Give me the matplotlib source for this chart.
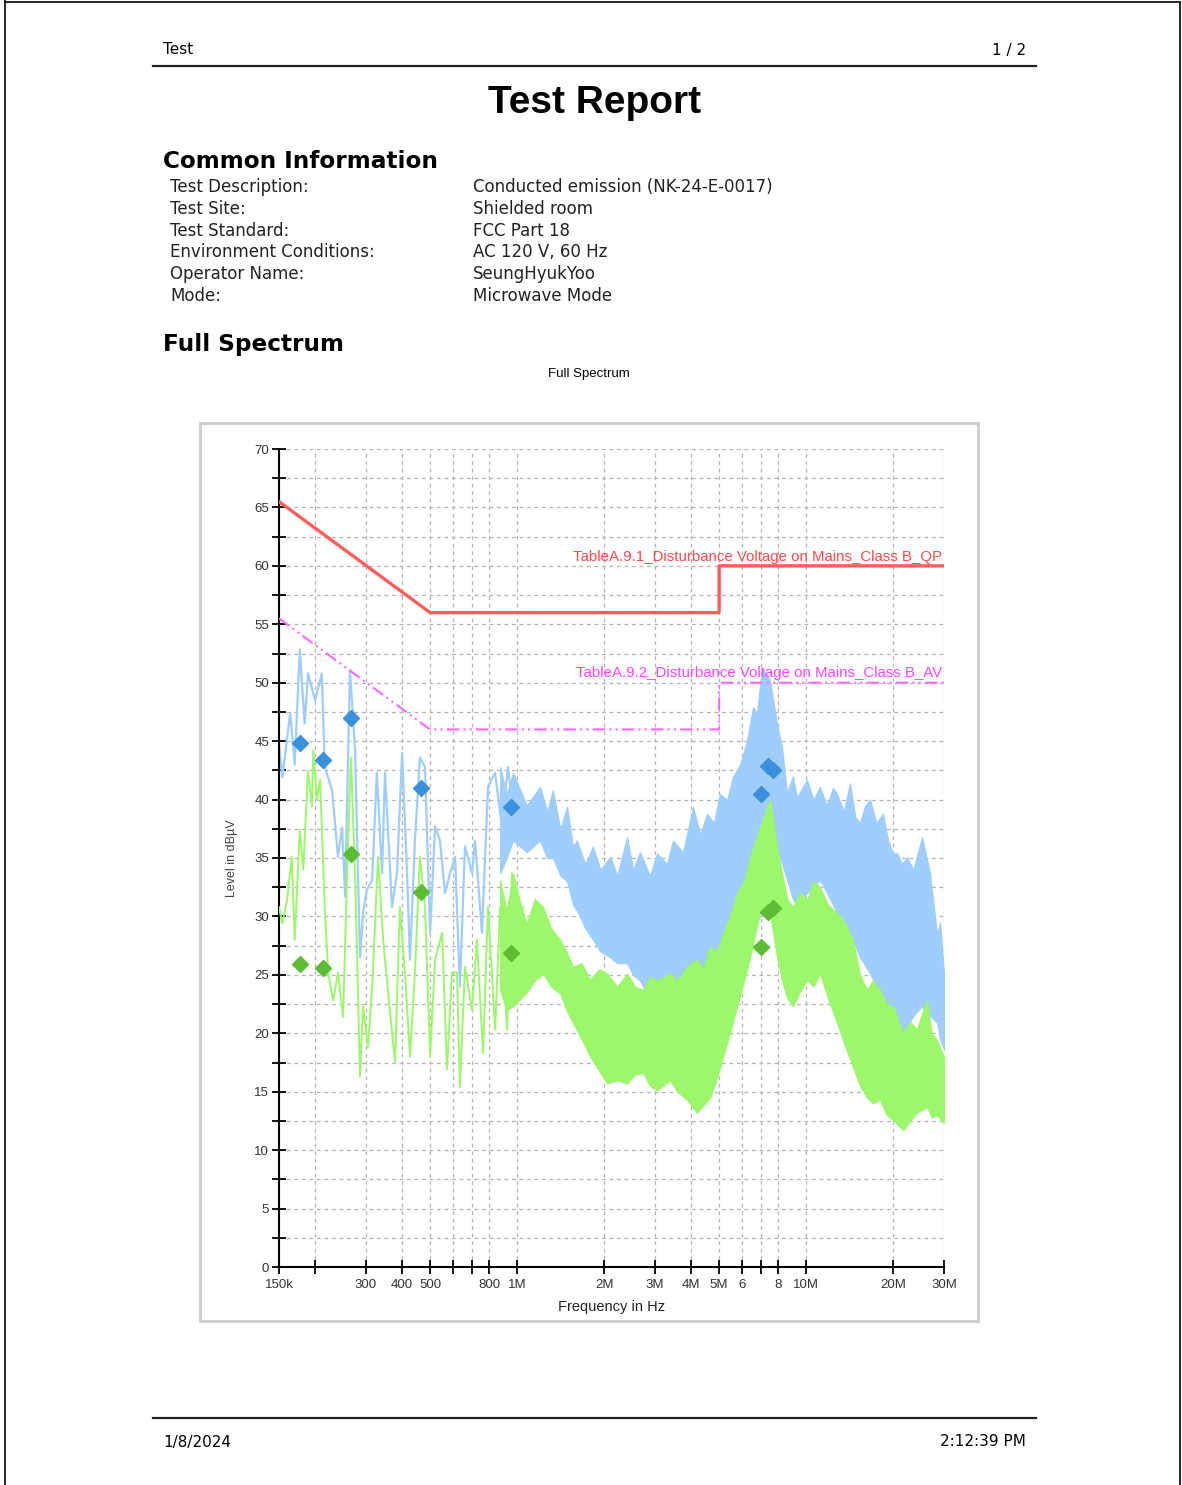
import matplotlib
matplotlib.use("Agg")
import matplotlib.pyplot as plt
from matplotlib.lines import Line2D
from matplotlib.patches import Rectangle
from matplotlib.ticker import FixedLocator, MultipleLocator

W, H = 1182, 1485

# limits (frequency in MHz, level in dBuV)
qp_limit_freq = [0.15, 0.5, 5.0, 5.0, 30.0]
qp_limit_level = [65.5, 56.0, 56.0, 60.0, 60.0]
av_limit_freq = [0.15, 0.5, 5.0, 5.0, 30.0]
av_limit_level = [55.5, 46.0, 46.0, 50.0, 50.0]

# low frequency part of the peak (blue) and average (green) scans
pk_low_freq = [0.150, 0.154, 0.164, 0.170, 0.177, 0.184, 0.189, 0.200, 0.211, 0.216,
               0.229, 0.240, 0.248, 0.254, 0.264, 0.275, 0.286, 0.293, 0.302, 0.315,
               0.327, 0.341, 0.349, 0.369, 0.384, 0.400, 0.416, 0.426, 0.443, 0.461,
               0.480, 0.500, 0.520, 0.541, 0.563, 0.586, 0.610, 0.634, 0.660, 0.698,
               0.715, 0.756, 0.793, 0.839, 0.887, 0.930, 0.984, 1.040]
pk_low_level = [44.8, 41.9, 47.4, 43.0, 52.8, 46.5, 50.8, 48.5, 50.8, 42.8,
                40.8, 35.1, 37.6, 31.7, 51.1, 44.2, 26.5, 30.3, 32.3, 33.1,
                42.3, 33.7, 42.3, 30.8, 33.7, 44.0, 33.7, 26.3, 36.5, 43.6,
                42.8, 28.6, 37.7, 36.5, 32.0, 33.7, 35.1, 24.0, 36.0, 33.7,
                36.5, 28.6, 41.1, 42.3, 37.6, 42.8, 37.6, 40.0]

av_low_freq = [0.150, 0.154, 0.160, 0.166, 0.170, 0.177, 0.182, 0.189, 0.195, 0.197,
               0.203, 0.208, 0.216, 0.222, 0.231, 0.240, 0.250, 0.258, 0.266, 0.275,
               0.286, 0.293, 0.305, 0.317, 0.330, 0.344, 0.358, 0.378, 0.393, 0.409,
               0.426, 0.443, 0.461, 0.480, 0.500, 0.520, 0.550, 0.572, 0.595, 0.619,
               0.634, 0.660, 0.698, 0.726, 0.762, 0.793, 0.839, 0.873, 0.923, 0.960,
               1.007, 1.048]
av_low_level = [30.8, 29.4, 31.4, 35.1, 28.0, 37.4, 34.0, 42.5, 39.4, 44.2,
                40.0, 41.7, 30.8, 25.1, 22.8, 25.2, 21.4, 33.7, 43.6, 33.7,
                16.3, 22.3, 18.8, 25.2, 35.1, 28.0, 23.4, 17.5, 30.8, 25.2,
                18.0, 25.2, 35.1, 30.8, 18.0, 26.3, 28.6, 16.9, 25.2, 25.2,
                15.4, 25.7, 22.0, 28.0, 18.3, 30.8, 20.3, 30.8, 20.3, 33.7,
                28.0, 30.8]

# dense part: min / max envelope of the scans
pk_band_freq = [0.873, 0.92, 0.968, 1.08, 1.20, 1.27, 1.33, 1.41, 1.49, 1.56,
                1.61, 1.72, 1.83, 1.94, 2.10, 2.22, 2.40, 2.52, 2.66, 2.88,
                3.05, 3.30, 3.46, 3.75, 4.06, 4.30, 4.54, 4.80, 5.03, 5.33,
                5.59, 5.91, 6.25, 6.55, 6.76, 7.04, 7.50, 7.93, 8.25, 8.59,
                9.00, 9.30, 10.07, 10.6, 11.17, 11.8, 12.39, 12.79, 13.5, 14.19,
                14.8, 15.36, 16.0, 16.64, 17.5, 18.45, 19.2, 20.0, 20.63, 21.5,
                22.34, 23.5, 25.18, 26.84, 28.38, 29.07, 30.0]
pk_band_hi = [42.8, 40.5, 42.3, 39.5, 41.1, 39.0, 40.8, 37.5, 39.4, 36.0,
              36.5, 34.5, 36.0, 34.0, 35.1, 33.5, 36.8, 34.0, 35.5, 33.5,
              35.4, 34.5, 36.5, 35.5, 39.4, 37.0, 38.8, 38.0, 40.5, 40.0,
              42.0, 43.0, 45.1, 47.9, 47.4, 51.3, 50.2, 46.5, 44.5, 40.6,
              42.0, 40.2, 41.7, 40.0, 41.1, 39.5, 41.0, 40.5, 39.0, 41.4,
              38.5, 38.0, 39.5, 40.0, 38.0, 38.8, 36.5, 35.4, 35.4, 34.5,
              35.1, 34.0, 36.8, 33.7, 28.5, 29.5, 25.1]
pk_band_lo = [33.7, 35.0, 36.5, 35.5, 36.5, 35.0, 35.0, 33.5, 33.0, 31.0,
              30.5, 29.0, 28.0, 27.0, 26.5, 26.0, 26.0, 25.0, 24.5, 23.0,
              22.5, 23.0, 23.2, 22.0, 21.4, 22.5, 23.7, 25.5, 28.0, 29.0,
              30.3, 32.0, 33.7, 35.0, 36.0, 38.0, 39.4, 36.0, 34.5, 33.1,
              31.5, 30.8, 32.0, 32.5, 33.1, 32.0, 31.0, 30.3, 29.5, 28.0,
              27.5, 26.5, 25.8, 25.1, 24.0, 22.8, 21.5, 20.5, 19.4, 20.0,
              20.5, 21.5, 22.3, 21.5, 20.9, 19.5, 18.6]

av_band_freq = [0.873, 0.92, 0.968, 1.03, 1.08, 1.15, 1.23, 1.31, 1.41, 1.48,
                1.56, 1.67, 1.79, 1.92, 2.05, 2.22, 2.40, 2.56, 2.73, 2.88,
                3.05, 3.38, 3.58, 3.87, 4.19, 4.40, 4.65, 4.90, 5.16, 5.45,
                5.77, 6.10, 6.40, 6.93, 7.50, 7.93, 8.25, 8.6, 9.01, 9.5,
                10.07, 10.6, 11.17, 11.9, 12.79, 13.6, 14.53, 15.36, 16.24, 17.0,
                18.02, 19.0, 20.0, 21.65, 22.9, 24.2, 25.38, 26.2, 27.2, 28.38,
                30.0]
av_band_hi = [33.1, 30.5, 33.7, 31.0, 29.4, 31.5, 30.8, 29.0, 28.0, 27.0,
              25.7, 26.0, 24.6, 25.5, 25.1, 24.0, 25.1, 24.0, 23.7, 24.8,
              24.5, 25.1, 24.5, 25.7, 26.3, 25.5, 27.4, 27.0, 28.5, 30.0,
              32.0, 33.0, 35.1, 37.7, 40.0, 36.0, 33.7, 31.5, 30.8, 32.0,
              31.4, 33.0, 32.5, 31.0, 30.3, 29.5, 28.0, 25.0, 23.7, 24.5,
              23.7, 22.5, 22.3, 20.0, 21.0, 20.3, 22.0, 22.8, 20.0, 19.4,
              18.0]
av_band_lo = [23.7, 22.0, 22.3, 23.0, 23.5, 24.5, 25.1, 24.0, 23.4, 22.0,
              20.9, 19.5, 18.0, 16.8, 15.7, 16.0, 15.7, 16.5, 16.6, 15.5,
              15.1, 16.0, 15.0, 14.3, 13.2, 13.8, 14.5, 16.0, 18.0, 20.0,
              22.3, 24.5, 26.5, 30.3, 30.3, 26.5, 24.5, 23.0, 22.3, 23.5,
              24.6, 24.0, 25.1, 23.0, 20.9, 19.0, 17.1, 15.5, 14.5, 14.0,
              14.3, 13.0, 12.6, 11.7, 12.5, 13.2, 13.5, 13.7, 12.8, 13.0,
              12.3]

# final measurement points
qp_final_freq = [0.177, 0.213, 0.266, 0.464, 0.953, 7.00, 7.36, 7.66]
qp_final_level = [44.8, 43.4, 47.0, 41.0, 39.4, 40.5, 42.9, 42.5]
av_final_freq = [0.177, 0.213, 0.266, 0.464, 0.953, 7.00, 7.36, 7.66]
av_final_level = [25.9, 25.6, 35.3, 32.1, 26.9, 27.4, 30.4, 30.7]

xtick_vals = [0.15, 0.2, 0.3, 0.4, 0.5, 0.6, 0.7, 0.8, 1, 2, 3, 4, 5, 6, 7, 8, 10, 20, 30]
xtick_text = ['150k', '', '300', '400', '500', '', '', '800', '1M', '2M', '3M', '4M', '5M',
              '6', '', '8', '10M', '20M', '30M']

info_labels = ['Test Description:', 'Test Site:', 'Test Standard:',
               'Environment Conditions:', 'Operator Name:', 'Mode:']
info_values = ['Conducted emission (NK-24-E-0017)', 'Shielded room', 'FCC Part 18',
               'AC 120 V, 60 Hz', 'SeungHyukYoo', 'Microwave Mode']

plt.rcParams['font.family'] = ['Liberation Sans', 'DejaVu Sans']


def fx(x):
    return x / W


def fy(y):
    return 1 - y / H


fig = plt.figure(figsize=(W / 100, H / 100), dpi=100)

# page border
for xs, ys in [([5, 5], [0, H]), ([5, 1180], [2, 2]), ([1180, 1180], [2, H])]:
    fig.add_artist(Line2D([fx(v) for v in xs], [fy(v) for v in ys], color='black', lw=1.2))

# header / footer
fig.add_artist(Line2D([fx(153), fx(1036)], [fy(66), fy(66)], color='#222222', lw=1.6))
fig.text(fx(163), fy(50), 'Test', fontsize=11, family='DejaVu Sans', va='center', ha='left')
fig.text(fx(1026), fy(50), '1 / 2', fontsize=11, family='DejaVu Sans', va='center', ha='right')
fig.add_artist(Line2D([fx(153), fx(1036)], [fy(1418), fy(1418)], color='#222222', lw=1.6))
fig.text(fx(163), fy(1442), '1/8/2024', fontsize=11, family='DejaVu Sans', va='center', ha='left')
fig.text(fx(1026), fy(1442), '2:12:39 PM', fontsize=11, family='DejaVu Sans', va='center', ha='right')

fig.text(fx(595), fy(103), 'Test Report', fontsize=28, fontweight='bold', ha='center', va='center')
fig.text(fx(163), fy(161), 'Common Information', fontsize=16.7, fontweight='bold',
         family='DejaVu Sans', ha='left', va='center')
for i, (lab, val) in enumerate(zip(info_labels, info_values)):
    y = 187 + i * 21.8
    fig.text(fx(170), fy(y), lab, fontsize=12, family='DejaVu Sans', ha='left', va='center', color='#222222')
    fig.text(fx(473), fy(y), val, fontsize=12, family='DejaVu Sans', ha='left', va='center', color='#222222')
fig.text(fx(163), fy(345), 'Full Spectrum', fontsize=16.7, fontweight='bold',
         family='DejaVu Sans', ha='left', va='center')
fig.text(fx(589), fy(374), 'Full Spectrum', fontsize=9.5, ha='center', va='center')

# chart frame
fig.add_artist(Rectangle((fx(200), fy(1321)), fx(778), 898 / H, fill=False,
                         edgecolor='#cfcfcf', lw=2.2))

ax = fig.add_axes([fx(279), fy(1267), fx(665), 818 / H])
ax.set_xscale('log')

ax.fill_between(pk_band_freq, pk_band_lo, pk_band_hi, color='#9fcdfc', lw=0.8,
                edgecolor='#9fcdfc', zorder=2)
ax.plot(pk_low_freq, pk_low_level, color='#9fcdfc', lw=1.6, zorder=2)
ax.fill_between(av_band_freq, av_band_lo, av_band_hi, color='#9cf76a', lw=0.8,
                edgecolor='#9cf76a', zorder=3)
ax.plot(av_low_freq, av_low_level, color='#9cf76a', lw=1.4, zorder=3)

ax.plot(qp_limit_freq, qp_limit_level, color='#ff5c5c', lw=2.4, zorder=4)
ax.plot(av_limit_freq, av_limit_level, color='#ff66ff', lw=1.5, ls=(0, (6, 2, 1, 2, 1, 2)), zorder=4)
ax.text(29.6, 60.2, 'TableA.9.1_Disturbance Voltage on Mains_Class B_QP', color='#ff4b4b',
        fontsize=10.8, ha='right', va='bottom', zorder=5)
ax.text(29.6, 50.2, 'TableA.9.2_Disturbance Voltage on Mains_Class B_AV', color='#ff44ff',
        fontsize=10.8, ha='right', va='bottom', zorder=5)

ax.plot(qp_final_freq, qp_final_level, ls='none', marker='D', ms=8, color='#3a90dc', zorder=6)
ax.plot(av_final_freq, av_final_level, ls='none', marker='D', ms=8, color='#5cbc34', zorder=6)

ax.set_xlim(0.15, 30)
ax.set_ylim(0, 70)
ax.xaxis.set_major_locator(FixedLocator(xtick_vals))
ax.set_xticklabels(xtick_text)
ax.xaxis.set_minor_locator(FixedLocator([]))
ax.yaxis.set_major_locator(MultipleLocator(5))
ax.yaxis.set_minor_locator(MultipleLocator(2.5))
ax.grid(which='both', color='#b4b4b4', ls=(0, (3, 3)), lw=0.9, zorder=1)
ax.set_axisbelow(True)
ax.tick_params(axis='both', which='both', direction='inout', length=10, width=1.3,
               labelsize=9.5, labelcolor='#333333')
ax.tick_params(axis='x', pad=4)
ax.tick_params(axis='y', pad=2)
for s in ['top', 'right']:
    ax.spines[s].set_visible(False)
for s in ['left', 'bottom']:
    ax.spines[s].set_linewidth(1.5)

ax.set_xlabel('Frequency in Hz', fontsize=10.5, color='#222222', labelpad=6)
ax.set_ylabel('Level in dBµV', fontsize=9, color='#444444', labelpad=12)

fig.savefig('out.png', dpi=100)
